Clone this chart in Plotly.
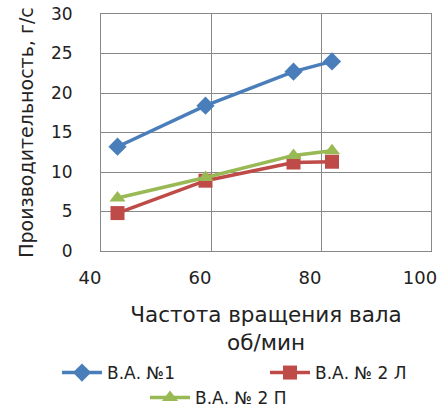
import plotly.graph_objects as go

x_rpm = [43, 59, 75, 82]
va1 = [13.2, 18.4, 22.7, 24.0]
va2_l = [4.8, 8.9, 11.2, 11.3]
va2_p = [6.7, 9.3, 12.1, 12.7]

names = ["В.А. №1", "В.А. № 2 Л", "В.А. № 2 П"]
colors = ["#4A7EBB", "#BE4B48", "#98B954"]
symbols = ["diamond", "square", "triangle-up"]
series = [va1, va2_l, va2_p]
legends = ["legend", "legend2", "legend3"]

FONT = "DejaVu Sans"
W, H = 448, 407

fig = go.Figure()
for name, ys, c, s, lg in zip(names, series, colors, symbols, legends):
    fig.add_trace(go.Scatter(
        x=x_rpm, y=ys, name=name, mode="lines+markers",
        line=dict(color=c, width=3.5),
        marker=dict(symbol=s, size=14, color=c),
        legend=lg, showlegend=True,
    ))

def leg(px, py):
    return dict(orientation="h", xref="container", yref="container",
                x=px / W, y=1 - py / H, xanchor="left", yanchor="middle",
                font=dict(family="DejaVu Sans", size=17, color="#222"),
                itemwidth=40, bgcolor="rgba(0,0,0,0)")

fig.update_layout(
    width=W, height=H, showlegend=True,
    margin=dict(l=101, r=17, t=14, b=156, autoexpand=False),
    plot_bgcolor="white", paper_bgcolor="white",
    font=dict(family=FONT, color="#222", size=15),
    xaxis=dict(
        range=[40, 100], dtick=20, showgrid=True, gridcolor="#888", gridwidth=1,
        showline=True, linecolor="#888", mirror=True, zeroline=False,
        ticks="", ticklabelstandoff=10, ticklabelshift=-11, automargin=False,
        tickfont=dict(size=18),
        title=dict(text="Частота вращения вала<br>об/мин", font=dict(size=21.5), standoff=20),
    ),
    yaxis=dict(
        range=[0, 30], dtick=5, showgrid=True, gridcolor="#888", gridwidth=1,
        showline=True, linecolor="#888", mirror=True, zeroline=False,
        ticks="", ticklabelstandoff=24, automargin=False,
        tickfont=dict(size=17),
        title=dict(text="Производительность, г/с", font=dict(size=19), standoff=12),
    ),
    legend=leg(57, 373),
    legend2=leg(265, 373),
    legend3=leg(145, 398),
)

fig.write_html("out.html")
